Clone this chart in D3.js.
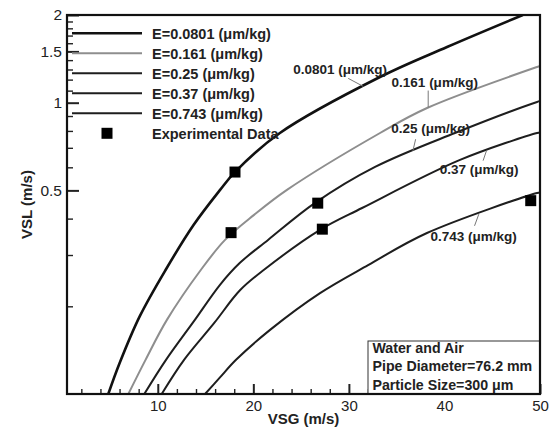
<!DOCTYPE html>
<html>
<head>
<meta charset="utf-8">
<script src="https://cdn.jsdelivr.net/npm/d3@7"></script>
<style>
  body { margin: 0; background: #fff; }
  svg { font-family: "Liberation Sans", Arial, sans-serif; }
  .tick text { font-size: 15px; fill: #222; }
  .axis-title { font-size: 15px; font-weight: bold; fill: #222; }
  .legend text, .curve-label, .note text { font-weight: bold; fill: #222; }
</style>
</head>
<body>
<svg width="552" height="428"></svg>
<script>
// erosion ratios (um/kg) and the curve for each one: [VSG, VSL]
const ratios = ["0.0801", "0.161", "0.25", "0.37", "0.743"];
const curve0801 = [[4.82, 0.1], [6.02, 0.128], [8.12, 0.185], [10.83, 0.267], [13.76, 0.381],
  [16.5, 0.501], [18.07, 0.578], [22.78, 0.787], [33.25, 1.225], [40.27, 1.553], [48.2, 2.0]];
const curve161 = [[6.92, 0.1], [8.72, 0.131], [10.97, 0.18], [14.52, 0.267], [17.04, 0.338],
  [20.08, 0.412], [23.52, 0.502], [33.26, 0.787], [38.18, 0.959], [49.69, 1.326], [50, 1.336]];
const curve25 = [[8.59, 0.1], [10.86, 0.131], [13.9, 0.18], [16.51, 0.237], [18.6, 0.282],
  [21.54, 0.338], [26.46, 0.453], [32.74, 0.602], [41.1, 0.787], [49.69, 1.006], [50, 1.013]];
const curve37 = [[10.41, 0.1], [12.75, 0.131], [15.89, 0.175], [18.6, 0.227], [21.12, 0.267],
  [26.98, 0.366], [31.38, 0.435], [41.63, 0.636], [49.69, 0.787], [50, 0.79]];
const curve743 = [[14.95, 0.1], [16.51, 0.114], [18.19, 0.131], [21.75, 0.166], [26.98, 0.222],
  [32.01, 0.277], [38.17, 0.357], [49.69, 0.49], [50, 0.492]];
const curves = [curve0801, curve161, curve25, curve37, curve743];

// experimental points [VSG, VSL]
const experiments = [[18.08, 0.578], [17.67, 0.358], [26.74, 0.452], [27.22, 0.368], [49.03, 0.461]];

const vsgTicks = [10, 20, 30, 40, 50];
const vslTicks = [0.5, 1, 1.5, 2];
const noteLines = ["Water and Air", "Pipe Diameter=76.2 mm", "Particle Size=300 \u03bcm"];

const svg = d3.select("svg"),
  margin = { top: 15, right: 12, bottom: 34, left: 67 },
  width = +svg.attr("width") - margin.left - margin.right,
  height = +svg.attr("height") - margin.top - margin.bottom;

const x = d3.scaleLinear().domain([0.5, 50]).range([0, width]),
  y = d3.scaleLog().domain([0.1, 2]).range([height, 0]);

const colors = ["#111", "#8e8e8e", "#1e1e1e", "#1e1e1e", "#1e1e1e"],
  widths = [2.6, 2, 2, 2, 2];

const g = svg.append("g").attr("transform", `translate(${margin.left},${margin.top})`);

g.append("clipPath").attr("id", "plot")
  .append("rect").attr("width", width).attr("height", height);

// minor ticks
const minorX = d3.range(2, 50, 2).filter((d) => d % 10 !== 0);
const minorY = d3.range(2, 20).map((d) => d / 10).filter((d) => vslTicks.indexOf(d) < 0);

g.append("g")
  .attr("transform", `translate(0,${height})`)
  .call(d3.axisBottom(x).tickValues(minorX).tickSize(-5).tickFormat(""))
  .call((a) => a.select(".domain").remove());
g.append("g")
  .call(d3.axisLeft(y).tickValues(minorY).tickSize(-6).tickFormat(""))
  .call((a) => a.select(".domain").remove());

g.append("g")
  .attr("class", "axis axis--x")
  .attr("transform", `translate(0,${height})`)
  .call(d3.axisBottom(x).tickValues(vsgTicks).tickSize(-10).tickPadding(6).tickFormat(d3.format("d")))
  .call((a) => a.select(".domain").remove());
g.append("g")
  .attr("class", "axis axis--y")
  .call(d3.axisLeft(y).tickValues(vslTicks).tickSize(-12).tickPadding(5).tickFormat((d) => d))
  .call((a) => a.select(".domain").remove());

g.selectAll(".tick line").attr("stroke", "#222").attr("stroke-width", 1.4);
g.selectAll(".axis .tick line").attr("stroke-width", 2);
g.selectAll(".axis--y .tick text").style("font-size", "15.5px");

g.append("text").attr("class", "axis-title")
  .attr("x", width / 2).attr("y", height + 30)
  .attr("text-anchor", "middle").text("VSG (m/s)");
g.append("text").attr("class", "axis-title")
  .attr("transform", `translate(${-35},${height / 2}) rotate(-90)`)
  .attr("text-anchor", "middle").text("VSL (m/s)");

// model curves
const line = d3.line().x((d) => x(d[0])).y((d) => y(d[1])).curve(d3.curveCatmullRom.alpha(0.5));
g.append("g").attr("clip-path", "url(#plot)")
  .selectAll("path")
  .data(curves)
  .join("path")
  .attr("fill", "none")
  .attr("stroke", (d, i) => colors[i])
  .attr("stroke-width", (d, i) => widths[i])
  .attr("d", line);

// curve labels with leader lines (anchored on the curve at a given VSG)
function vslAt(pts, v) {
  const i = Math.max(1, d3.bisector((d) => d[0]).left(pts, v));
  const a = pts[i - 1], b = pts[i], t = (v - a[0]) / (b[0] - a[0]);
  return Math.exp(Math.log(a[1]) + t * (Math.log(b[1]) - Math.log(a[1])));
}
const labelPlaces = [
  { at: 31.5, lead: [-15, -8], text: [-70, -12] },
  { at: 38.3, lead: [0, -17], text: [-36.6, -21] },
  { at: 36.7, lead: [2.7, -11.6], text: [-21.6, -17.6] },
  { at: 44.4, lead: [-3.4, 10], text: [-46.7, 23.3] },
  { at: 43.6, lead: [-4.3, 11.7], text: [-48.3, 26.7] }
];
labelPlaces.forEach((p, i) => {
  const cx = x(p.at), cy = y(vslAt(curves[i], p.at));
  g.append("line")
    .attr("x1", cx).attr("y1", cy)
    .attr("x2", cx + p.lead[0]).attr("y2", cy + p.lead[1])
    .attr("stroke", "#777").attr("stroke-width", 1);
  g.append("text").attr("class", "curve-label")
    .attr("x", cx + p.text[0]).attr("y", cy + p.text[1])
    .style("font-size", "13.5px")
    .text(`${ratios[i]} (\u03bcm/kg)`);
});

// experimental data
g.selectAll(".exp")
  .data(experiments)
  .join("rect")
  .attr("class", "exp")
  .attr("x", (d) => x(d[0]) - 5.5)
  .attr("y", (d) => y(d[1]) - 5.5)
  .attr("width", 11).attr("height", 11)
  .attr("fill", "#000");

// legend
const legend = g.append("g").attr("class", "legend").attr("transform", "translate(5,18.3)");
ratios.forEach((r, i) => {
  const row = legend.append("g").attr("transform", `translate(0,${i * 20})`);
  row.append("line").attr("x1", 0).attr("x2", 70)
    .attr("stroke", colors[i]).attr("stroke-width", widths[i]);
  row.append("text").attr("x", 80).attr("dy", "0.36em")
    .style("font-size", "14.5px").text(`E=${r} (\u03bcm/kg)`);
});
const expRow = legend.append("g").attr("transform", `translate(0,${5 * 20})`);
expRow.append("rect").attr("x", 29.5).attr("y", -5.5).attr("width", 11).attr("height", 11).attr("fill", "#000");
expRow.append("text").attr("x", 80).attr("dy", "0.36em").style("font-size", "14.5px").text("Experimental Data");

// info box in the lower right corner
const note = g.append("g").attr("class", "note")
  .attr("transform", `translate(${width - 172},${height - 53})`);
note.append("rect").attr("width", 172).attr("height", 53)
  .attr("fill", "#fff").attr("stroke", "#333").attr("stroke-width", 1);
note.selectAll("text")
  .data(noteLines)
  .join("text")
  .attr("x", 4.5)
  .attr("y", (d, i) => 11.5 + i * 18.5)
  .style("font-size", "14.2px")
  .text((d) => d);

// frame
g.append("rect").attr("width", width).attr("height", height)
  .attr("fill", "none").attr("stroke", "#111").attr("stroke-width", 2.2);
</script>
</body>
</html>
